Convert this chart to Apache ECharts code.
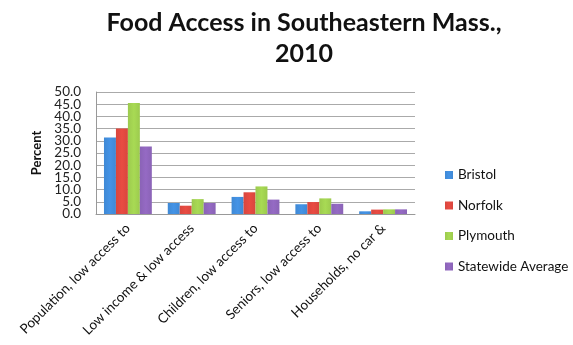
<!DOCTYPE html>
<html><head><meta charset="utf-8">
<script src="https://cdn.jsdelivr.net/npm/echarts@6/dist/echarts.min.js"></script>
<style>html,body{margin:0;padding:0;background:#fff}#c{width:573px;height:345px}</style>
</head><body><div id="c"></div>
<script>
const categories = ["Population, low access to", "Low income & low access", "Children, low access to", "Seniors, low access to", "Households, no car &"];
const seriesNames = ["Bristol", "Norfolk", "Plymouth", "Statewide Average"];
const bristol = [31.4, 4.5, 7.0, 4.0, 1.1];
const norfolk = [35.0, 3.4, 8.9, 4.9, 1.8];
const plymouth = [45.5, 6.1, 11.3, 6.4, 1.9];
const statewide = [27.7, 4.5, 5.9, 4.2, 1.9];
const yTicks = {min: 0, max: 50, interval: 5};
const colors = ["#3F89D5", "#D8463E", "#9CCA4E", "#8A63B6"];
const data = [bristol, norfolk, plymouth, statewide];
const font = "Lato, 'Open Sans', sans-serif";
function grad(c) {
  return new echarts.graphic.LinearGradient(0, 0, 1, 0, [
    {offset: 0, color: c}, {offset: 0.5, color: echarts.color.lift(c, -0.08)}, {offset: 1, color: c}]);
}
const labelBase = {fontFamily: font, fontSize: 13.5, color: '#222', margin: 15};
const chart = echarts.init(document.getElementById('c'));
chart.setOption({
  animation: false,
  title: {text: "Food Access in Southeastern Mass.,\n2010", left: 299, top: 2, textAlign: 'center',
    textStyle: {fontFamily: font, fontSize: 25, fontWeight: 'bold', color: '#111', lineHeight: 31}},
  legend: {orient: 'vertical', left: 440, top: 163, itemGap: 16.5, itemWidth: 8, itemHeight: 8, icon: 'rect',
    textStyle: {fontFamily: font, fontSize: 13.5, color: '#111'}, data: seriesNames,
    itemStyle: {borderWidth: 0}},
  grid: {left: 96, right: 158, top: 92, bottom: 131},
  xAxis: {type: 'category', data: categories,
    axisLine: {lineStyle: {color: '#999'}}, axisTick: {show: false},
    axisLabel: {rotate: 45, interval: 0, fontFamily: font, fontSize: 13.5, color: '#111', margin: 12}},
  yAxis: [{type: 'value', min: yTicks.min, max: yTicks.max, interval: yTicks.interval,
    name: 'Percent', nameLocation: 'middle', nameGap: 41, nameRotate: 90,
    nameTextStyle: {fontFamily: font, fontSize: 13, fontWeight: 'bold', color: '#111'},
    axisLine: {show: true, lineStyle: {color: '#999'}}, axisTick: {show: false},
    axisLabel: Object.assign({formatter: v => v.toFixed(1), showMinLabel: true, showMaxLabel: true}, labelBase),
    splitLine: {lineStyle: {color: '#aaa'}}},
   {type: 'value', position: 'left', min: yTicks.min, max: yTicks.max, interval: yTicks.interval,
    axisLine: {show: false}, axisTick: {show: false}, splitLine: {show: false},
    axisLabel: Object.assign({formatter: v => (v === yTicks.min + yTicks.interval || v === yTicks.max - yTicks.interval) ? v.toFixed(1) : '',
      showMinLabel: false, showMaxLabel: false}, labelBase)}],
  series: data.map((d, i) => ({name: seriesNames[i], type: 'bar', data: d, barGap: '0%', barCategoryGap: '25%',
    yAxisIndex: 0, itemStyle: {color: grad(colors[i])}}))
});
</script></body></html>
